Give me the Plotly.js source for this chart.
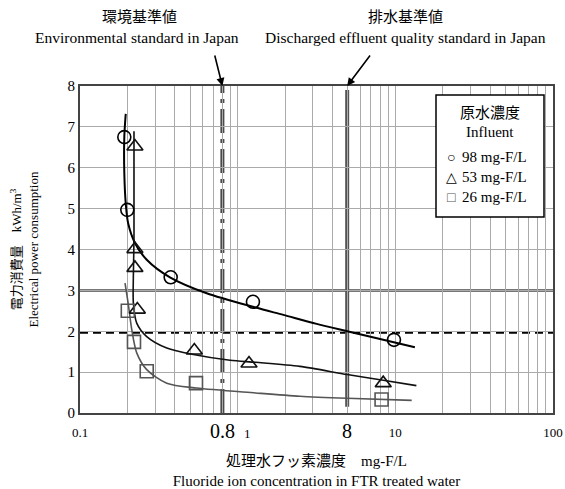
<!DOCTYPE html>
<html>
<head>
<meta charset="utf-8">
<script src="https://cdn.plot.ly/plotly-3.0.1.min.js"></script>
<style>html,body{margin:0;padding:0;background:#fff;}#chart{width:565px;height:489px;}</style>
</head>
<body>
<div id="chart"></div>
<script>
// Measured points (x: treated water F mg/L, y: kWh/m3)
const x98 = [0.191, 0.1995, 0.376, 1.25, 9.8];
const y98 = [6.75, 4.97, 3.32, 2.72, 1.79];
const x53 = [0.223, 0.223, 0.223, 0.231, 0.531, 1.18, 8.38];
const y53 = [6.52, 4.01, 3.55, 2.53, 1.53, 1.21, 0.73];
const x26 = [0.201, 0.22, 0.265, 0.544, 8.18];
const y26 = [2.50, 1.74, 1.02, 0.73, 0.33];

// Fitted curves
const cx98 = [0.195, 0.191, 0.191, 0.195, 0.202, 0.223, 0.265, 0.372, 0.636, 1.3, 1.95, 3.17, 4.95, 8.38, 13.3];
const cy98 = [7.32, 6.76, 5.87, 5.13, 4.64, 4.16, 3.75, 3.32, 2.93, 2.58, 2.40, 2.18, 2.0, 1.79, 1.61];
const cx53 = [0.22, 0.22, 0.218, 0.218, 0.229, 0.265, 0.355, 0.524, 0.894, 1.3, 2.48, 4.95, 8.38, 13.6];
const cy53 = [6.89, 4.32, 3.34, 2.69, 2.2, 1.87, 1.59, 1.43, 1.29, 1.24, 1.14, 0.94, 0.80, 0.67];
const cx26 = [0.193, 0.202, 0.213, 0.229, 0.265, 0.355, 0.549, 1.3, 2.48, 4.95, 12.7];
const cy26 = [3.18, 2.69, 2.04, 1.47, 1.06, 0.73, 0.61, 0.49, 0.41, 0.36, 0.31];

// Reference lines
const envStdX = 0.8;        // dash-dot line (環境基準値)
const effluentLineX = 4.95; // solid line labelled 8 (排水基準値), as drawn
const hLineSolid = 3.0;
const hLineDashed = 1.97;

const legendLabels = ['98 mg-F/L', '53 mg-F/L', '26 mg-F/L'];
const xTicks = [0.1, 1, 10, 100];
const xTickText = ['0.1', '', '10', '100'];   // "1" is drawn slightly right of its gridline, as in the original
const yTicks = [0, 1, 2, 3, 4, 5, 6, 7, 8];

const FONT = "Liberation Serif, DejaVu Serif, Noto Sans CJK JP, serif";

const traces = [
  {x: cx98, y: cy98, mode: 'lines', line: {color: '#000', width: 2, shape: 'spline', smoothing: 0.8}, showlegend: false, hoverinfo: 'skip'},
  {x: cx53, y: cy53, mode: 'lines', line: {color: '#111', width: 1.6, shape: 'spline', smoothing: 0.8}, showlegend: false, hoverinfo: 'skip'},
  {x: cx26, y: cy26, mode: 'lines', line: {color: '#555', width: 1.6, shape: 'spline', smoothing: 0.8}, showlegend: false, hoverinfo: 'skip'},
  {x: x98, y: y98, mode: 'markers', marker: {symbol: 'circle-open', size: 13, color: '#000', line: {width: 1.6, color: '#000'}}, name: legendLabels[0], showlegend: false},
  {x: x53, y: y53, mode: 'markers', marker: {symbol: 'triangle-up-open', size: 14, color: '#111', line: {width: 1.6, color: '#111'}}, name: legendLabels[1], showlegend: false},
  {x: x26, y: y26, mode: 'markers', marker: {symbol: 'square-open', size: 13, color: '#555', line: {width: 1.6, color: '#555'}}, name: legendLabels[2], showlegend: false}
];

const px = v => (v - 80) / 473;
const py = v => (413 - v) / 327;

const shapes = [
  {type: 'line', xref: 'paper', yref: 'y', x0: 0, x1: 1, y0: hLineSolid, y1: hLineSolid, line: {color: '#777', width: 3}, layer: 'below'},
  {type: 'line', xref: 'paper', yref: 'y', x0: 0, x1: 1, y0: hLineDashed, y1: hLineDashed, line: {color: '#000', width: 2.5, dash: '8px,5px'}, layer: 'below'},
  {type: 'line', xref: 'x', yref: 'y', x0: envStdX, x1: envStdX, y0: 0, y1: 8, line: {color: '#4a4a4a', width: 4, dash: '24px,6px,4px,6px'}, layer: 'below'},
  {type: 'line', xref: 'x', yref: 'y', x0: effluentLineX, x1: effluentLineX, y0: 0.15, y1: 7.9, line: {color: '#555', width: 4}, layer: 'below'},
  {type: 'rect', xref: 'paper', yref: 'paper', x0: px(436), x1: px(544), y0: py(217), y1: py(95), fillcolor: '#fff', line: {color: '#000', width: 1.5}}
];

const ann = (text, x, y, size, extra) => Object.assign({
  text: text, xref: 'paper', yref: 'paper', x: x, y: y,
  xanchor: 'center', yanchor: 'middle', showarrow: false,
  font: {family: FONT, size: size, color: '#000'}
}, extra || {});

const annotations = [
  ann('環境基準値', px(139), py(17), 15),
  ann('Environmental standard in Japan', px(137), py(37), 15.5),
  ann('排水基準値', px(405), py(17), 15),
  ann('Discharged effluent quality standard in Japan', px(405), py(37), 15.5),
  {x: Math.log10(envStdX), y: 8, xref: 'x', yref: 'y', text: '', showarrow: true, arrowhead: 2, arrowsize: 1, arrowwidth: 1.6, arrowcolor: '#000', ax: -8, ay: -32},
  {x: Math.log10(effluentLineX), y: 8, xref: 'x', yref: 'y', text: '', showarrow: true, arrowhead: 2, arrowsize: 1, arrowwidth: 1.6, arrowcolor: '#000', ax: 24, ay: -32},
  ann('0.8', Math.log10(envStdX), py(431), 20, {xref: 'x'}),
  ann('8', Math.log10(effluentLineX), py(431), 20, {xref: 'x'}),
  ann('1', px(247), py(433), 13),
  ann('原水濃度', px(490), py(113), 15),
  ann('Influent', px(490), py(132), 15),
  ann('○', px(451), py(157), 14),
  ann('△', px(451), py(177), 14),
  ann('□', px(451), py(197), 14, {font: {family: FONT, size: 14, color: '#555'}}),
  ann(legendLabels[0], px(460), py(157), 15, {xanchor: 'left'}),
  ann(legendLabels[1], px(460), py(177), 15, {xanchor: 'left'}),
  ann(legendLabels[2], px(460), py(197), 15, {xanchor: 'left'})
];

const layout = {
  width: 565, height: 489,
  margin: {l: 80, r: 12, t: 86, b: 76},
  paper_bgcolor: '#fff', plot_bgcolor: '#fff',
  font: {family: FONT, color: '#000'},
  showlegend: false,
  xaxis: {
    type: 'log', range: [-1, 2],
    tickvals: xTicks, ticktext: xTickText,
    tickfont: {family: FONT, size: 13, color: '#000'},
    ticklabelstandoff: 6,
    showgrid: true, gridcolor: '#aaa', gridwidth: 1,
    minor: {dtick: 'D1', showgrid: true, gridcolor: '#aaa', gridwidth: 1},
    showline: true, linecolor: '#444', linewidth: 2, mirror: true,
    ticks: '', zeroline: false,
    title: {text: '処理水フッ素濃度　mg-F/L<br>Fluoride ion concentration in FTR treated water', font: {family: FONT, size: 15, color: '#000'}, standoff: 19}
  },
  yaxis: {
    range: [0, 8], tickvals: yTicks,
    tickfont: {family: FONT, size: 15, color: '#000'},
    showgrid: true, gridcolor: '#aaa', gridwidth: 1,
    showline: true, linecolor: '#444', linewidth: 2, mirror: true,
    ticks: '', zeroline: false,
    title: {text: '電力消費量　kWh/m<sup>3</sup><br>Electrical power consumption', font: {family: FONT, size: 13, color: '#000'}, standoff: 26}
  },
  shapes: shapes,
  annotations: annotations
};

Plotly.newPlot('chart', traces, layout, {staticPlot: true, displayModeBar: false});
</script>
</body>
</html>
